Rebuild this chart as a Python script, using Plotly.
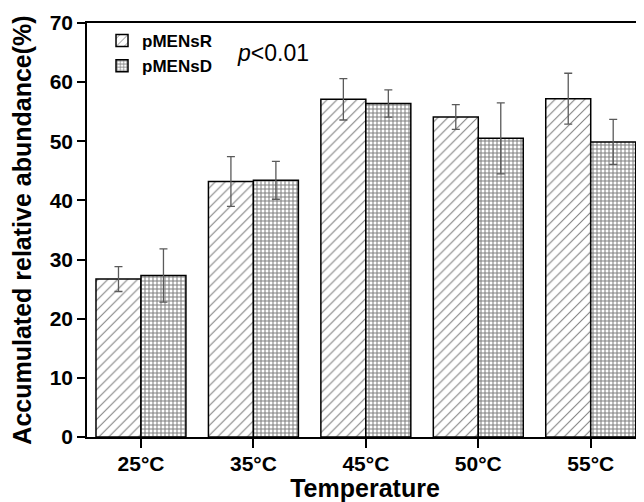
import plotly.graph_objects as go

categories = ["25°C", "35°C", "45°C", "50°C", "55°C"]
pmensr_values = [26.7, 43.2, 57.1, 54.1, 57.2]
pmensr_err = [2.1, 4.2, 3.5, 2.1, 4.3]
pmensd_values = [27.3, 43.4, 56.4, 50.5, 49.9]
pmensd_err = [4.5, 3.2, 2.3, 6.0, 3.8]
y_ticks = [0, 10, 20, 30, 40, 50, 60, 70]

FONT = "Arial, Liberation Sans, sans-serif"

# page body has an 8px margin; figure is sized so page coordinates match
W, H = 636, 494
ML, MR, MT, MB = 79, 1, 15, 65
PW = W - ML - MR
PH = H - MT - MB

fig = go.Figure()
fig.add_trace(go.Bar(
    name="<b>pMENsR</b>", x=categories, y=pmensr_values,
    error_y=dict(type="data", array=pmensr_err, color="#5a5a5a", thickness=1.3, width=4),
    marker=dict(color="white", line=dict(color="black", width=1.5),
                pattern=dict(shape="/", size=7, solidity=0.15, fgcolor="black", bgcolor="white")),
))
fig.add_trace(go.Bar(
    name="<b>pMENsD</b>", x=categories, y=pmensd_values,
    error_y=dict(type="data", array=pmensd_err, color="#5a5a5a", thickness=1.3, width=4),
    marker=dict(color="white", line=dict(color="black", width=1.5),
                pattern=dict(shape="+", size=4, solidity=0.45, fgcolor="black", bgcolor="white")),
))

fig.add_annotation(text="<i>p</i><0.01", xref="paper", yref="paper",
                   x=(265 - ML) / PW, y=0.9275, xanchor="center", yanchor="middle",
                   showarrow=False,
                   font=dict(family=FONT, size=23, color="black"))

fig.update_layout(
    width=W, height=H,
    margin=dict(l=ML, r=MR, t=MT, b=MB),
    paper_bgcolor="white", plot_bgcolor="white",
    barmode="group", bargap=0.2, bargroupgap=0,
    font=dict(family=FONT, color="black"),
    showlegend=True,
    legend=dict(x=0.027, y=1.0, xanchor="left", yanchor="top",
                bgcolor="rgba(0,0,0,0)", font=dict(family=FONT, size=17, color="black"),
                tracegroupgap=0, itemwidth=30),
    xaxis=dict(range=[-0.48, 4.465], showline=True, linecolor="black", linewidth=1.5,
               mirror=True, ticks="outside", ticklen=9, tickwidth=1.5, tickcolor="black",
               automargin=False, ticklabelstandoff=-2,
               tickfont=dict(family=FONT, size=21, color="black"),
               tickvals=categories, ticktext=["<b>%s</b>" % c for c in categories],
               title=dict(text="<b>Temperature</b>", font=dict(family=FONT, size=25), standoff=12)),
    yaxis=dict(range=[0, 70], tickvals=y_ticks, ticktext=["<b>%d</b>" % v for v in y_ticks],
               showline=True, linecolor="black", linewidth=1.5, mirror=True,
               ticks="outside", ticklen=8, tickwidth=1.5, tickcolor="black",
               showgrid=False, zeroline=False, automargin=False,
               tickfont=dict(family=FONT, size=21, color="black"),
               title=dict(text="<b>Accumulated relative abundance(%)</b>",
                          font=dict(family=FONT, size=25), standoff=16)),
)

fig.write_html("out.html")
